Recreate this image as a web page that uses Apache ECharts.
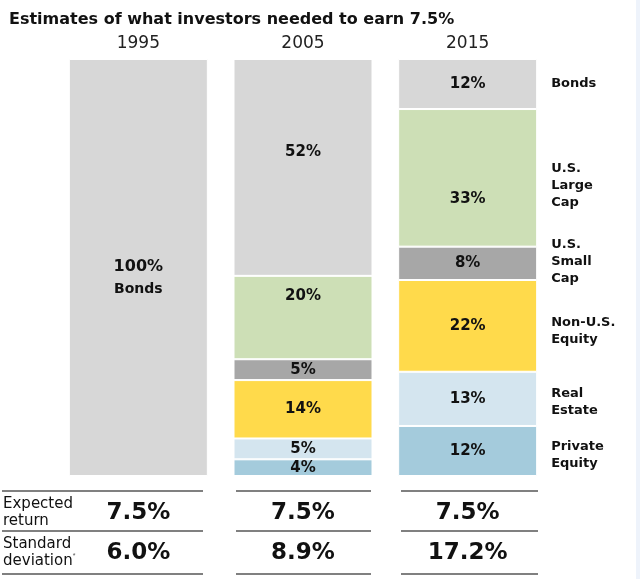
<!DOCTYPE html>
<html><head><meta charset="utf-8">
<script src="https://cdn.jsdelivr.net/npm/echarts@6/dist/echarts.min.js"></script>
<style>html,body{margin:0;padding:0;background:#fff}#c{width:640px;height:579px}</style>
</head><body><div id="c"></div>
<script>
var years = ['1995', '2005', '2015'];
var assetClasses = ['Private Equity', 'Real Estate', 'Non-U.S. Equity', 'U.S. Small Cap', 'U.S. Large Cap', 'Bonds'];
var rightLabels = ['Private\nEquity', 'Real\nEstate', 'Non-U.S.\nEquity', 'U.S.\nSmall\nCap', 'U.S.\nLarge\nCap', 'Bonds'];
var privateEquity = ['-', 4, 12];
var realEstate = ['-', 5, 13];
var nonUSEquity = ['-', 14, 22];
var usSmallCap = ['-', 5, 8];
var usLargeCap = ['-', 20, 33];
var bonds = [100, 52, 12];
var expectedReturn = ['7.5%', '7.5%', '7.5%'];
var stdDeviation = ['6.0%', '8.9%', '17.2%'];
var rowLabels = ['Expected\nreturn', 'Standard\ndeviation{s|*}'];

var colors = ['#a4cbdc', '#d4e5ef', '#ffda4b', '#a7a7a7', '#cddfb6', '#d7d7d7'];
var values = [privateEquity, realEstate, nonUSEquity, usSmallCap, usLargeCap, bonds];
// per-item label vertical offsets (style only)
var labelOffsets = [
  [0, 0, 0],
  [0, 0, 0],
  [0, 0, 0],
  [0, 0, 0],
  [0, -21, 21],
  [10, -15, 0]
];
var rightOffsets = [4, 3, 5, -2, 8, 0];
var FONT = 'DejaVu Sans';

var chart = echarts.init(document.getElementById('c'), null, {renderer: 'canvas'});
var series = [];
values.forEach(function (arr, si) {
  series.push({
    name: assetClasses[si],
    type: 'bar',
    stack: 'a',
    barWidth: 139,
    barGap: '-100%',
    itemStyle: {color: colors[si], borderColor: '#fff', borderWidth: 1},
    data: arr.map(function (v, i) {
      var item = {value: v, label: {offset: [0, labelOffsets[si][i]]}};
      if (si === 5 && i === 0) {
        item.label.formatter = '{a|' + v + '%}\n{b|Bonds}';
      }
      return item;
    }),
    label: {
      show: true,
      position: 'inside',
      formatter: '{c}%',
      color: '#111',
      fontFamily: FONT,
      fontWeight: 'bold',
      fontSize: 15,
      rich: {
        a: {fontFamily: FONT, fontWeight: 'bold', fontSize: 16, color: '#111', lineHeight: 24},
        b: {fontFamily: FONT, fontWeight: 'bold', fontSize: 14, color: '#111', lineHeight: 22}
      }
    },
    emphasis: {disabled: true}
  });
});
// overlay series carrying the right-hand labels beside the 2015 bar
values.forEach(function (arr, si) {
  series.push({
    name: assetClasses[si] + ' label',
    type: 'bar',
    stack: 'b',
    barWidth: 139,
    barGap: '-100%',
    silent: true,
    z: 1,
    itemStyle: {color: 'rgba(0,0,0,0)'},
    data: arr.map(function (v, i) { return i === 2 ? v : '-'; }),
    label: {
      show: true,
      position: 'right',
      distance: 14,
      offset: [0, rightOffsets[si]],
      formatter: function () { return rightLabels[si]; },
      color: '#111',
      fontFamily: FONT,
      fontWeight: 'bold',
      fontSize: 13,
      lineHeight: 17,
      align: 'left'
    },
    emphasis: {disabled: true}
  });
});

chart.setOption({
  animation: false,
  backgroundColor: '#fff',
  title: {
    text: 'Estimates of what investors needed to earn 7.5%',
    left: 4, top: 7,
    textStyle: {fontFamily: FONT, fontWeight: 'bold', fontSize: 16, color: '#111'}
  },
  grid: {left: 56, right: 90, top: 59, bottom: 103},
  xAxis: {
    type: 'category', data: years, position: 'top',
    axisLine: {show: false}, axisTick: {show: false},
    axisLabel: {fontFamily: FONT, fontSize: 17, color: '#222', margin: 7}
  },
  yAxis: {type: 'value', min: 0, max: 100, show: false},
  series: series
});

function drawTable() {
  var g = [];
  var rows = [expectedReturn, stdDeviation];
  var lineYs = [491, 531, 574];
  var rowYs = [513, 553];
  var lineSpans = [[2, 203], [236, 371], [401, 538]];
  years.forEach(function (y, i) {
    var cx = chart.convertToPixel({xAxisIndex: 0}, y);
    lineYs.forEach(function (ly) {
      g.push({type: 'line', shape: {x1: lineSpans[i][0], y1: ly, x2: lineSpans[i][1], y2: ly},
        style: {stroke: '#808080', lineWidth: 2}});
    });
    rows.forEach(function (r, ri) {
      g.push({type: 'text', x: cx, y: rowYs[ri], style: {text: r[i], fill: '#111',
        font: 'bold 23px "' + FONT + '"', align: 'center', verticalAlign: 'middle'}});
    });
  });
  rowLabels.forEach(function (t, ri) {
    g.push({type: 'text', x: 3, y: rowYs[ri], style: {text: t, fill: '#111',
      fontFamily: FONT, fontSize: 15, lineHeight: 17, align: 'left', verticalAlign: 'middle',
      rich: {s: {fontSize: 7, verticalAlign: 'top', lineHeight: 17, fill: '#555'}}}});
  });
  g.push({type: 'rect', shape: {x: 636, y: 0, width: 4, height: 579}, style: {fill: '#eef3fb'}});
  chart.setOption({graphic: g});
}
drawTable();
</script>
</body></html>
